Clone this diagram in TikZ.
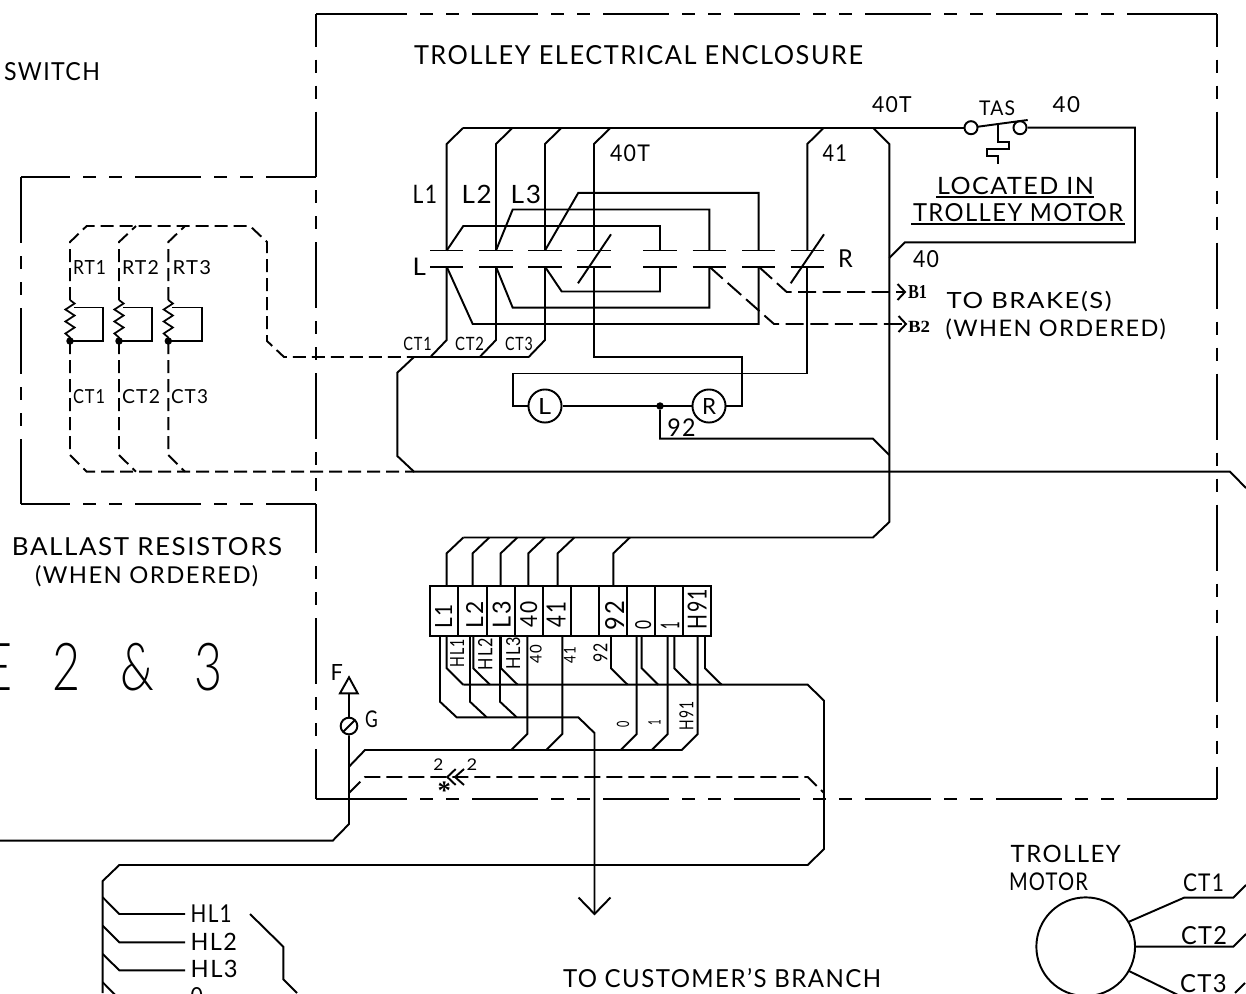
\documentclass[tikz,border=0pt]{standalone}
\usepackage{fontspec}
\usepackage{graphicx}
\setmainfont{Lato}[LetterSpace=6]
\newfontfamily\thinfnt{Lato Light}
\newfontfamily\bfnt{Liberation Serif}[BoldFont=* Bold]
\newlength\labw \newlength\labh
\tikzset{
  wire/.style={line width=1.45pt,line cap=butt,line join=miter},
  phantomline/.style={wire,dash pattern=on 49.5pt off 9.75pt on 9.75pt off 9.75pt on 9.75pt off 9.75pt},
  shortdash/.style={wire,dash pattern=on 9.75pt off 4.5pt},
  plugdash/.style={wire,dash pattern=on 12pt off 4.5pt},
  brakedash/.style={wire,dash pattern=on 13.5pt off 4.9pt},
  lbl/.style={inner sep=0pt,outer sep=0pt,anchor=base west},
  rlbl/.style={inner sep=0pt,outer sep=0pt,anchor=base west,rotate=90},
  ring/.style={circle,draw,line width=1.45pt,inner sep=0pt,fill=white},
  jdot/.style={circle,fill=black,inner sep=0pt,minimum size=5.6pt}
}
% name x1 x2 ytop ybase text
\newcommand\lab[6]{%
  \pgfmathsetlength\labw{(#3-(#2))*0.75pt}\pgfmathsetlength\labh{(#5-#4)*0.75pt}%
  \node[lbl] (#1) at (#2,#5) {\resizebox{\labw}{\labh}{#6}};}
% name xleft xright ytop ybottom text (reads bottom to top)
\newcommand\rlab[6]{%
  \pgfmathsetlength\labw{(#5-#4)*0.75pt}\pgfmathsetlength\labh{(#3-#2)*0.75pt}%
  \node[rlbl] (#1) at (#3,#5) {\resizebox{\labw}{\labh}{#6}};}
\begin{document}
\begin{tikzpicture}[x=0.75pt,y=-0.75pt]
\useasboundingbox (0,0) rectangle (1246,993);
\clip (0,0) rectangle (1246,993);
\fill[white] (0,0) rectangle (1246,993);

% --- enclosure outlines
\draw[phantomline,dash phase=25pt] (316,14) -- (316,177);
\draw[phantomline,dash phase=25pt] (1217,14) -- (1217,799);
\draw[wire] (316,14) -- (341,14) (1192,14) -- (1217,14);
\draw[phantomline] (341,14) -- (1192,14);
\draw[wire] (316,799) -- (341,799) (1192,799) -- (1217,799);
\draw[phantomline] (341,799) -- (1192,799);
\draw[phantomline,dash phase=49.5pt] (316,177) -- (316,504);
\draw[phantomline,dash phase=12.4pt] (316,504) -- (316,799);
\draw[phantomline,dash phase=12.4pt] (21,177) -- (316,177);
\draw[phantomline,dash phase=12.4pt] (21,504) -- (316,504);
\draw[phantomline] (21,177) -- (21,504);

% --- ballast resistors
\draw[shortdash] (70,300) -- (70,242) -- (86.7,226) -- (250,226) -- (267,242) -- (267,341) -- (284,357) -- (414,357);
\draw[shortdash] (119,300) -- (119,242) -- (136,226);
\draw[shortdash] (168.3,300) -- (168.3,242) -- (185,226);
\draw[shortdash] (70,341) -- (70,455) -- (86.7,471.7) -- (414,471.7);
\draw[shortdash] (119,341) -- (119,455) -- (136,471.7);
\draw[shortdash] (168.3,341) -- (168.3,455) -- (185,471.7);
\foreach \rx/\rn in {70/a,119/b,168.3/c}{
  \draw[wire,line width=1.3pt] (\rx,300) -- ++(4.6,3.5) -- ++(-9.2,6) -- ++(9.2,6) -- ++(-9.2,6) -- ++(9.2,6) -- ++(-9.2,6) -- ++(4.6,4) -- ++(0,4);
  \draw[line width=.6pt] (\rx+4,307.5) -- (\rx+11,307.5);
  \draw[wire] (\rx+10.5,307.5) -- (\rx+33.3,307.5) -- (\rx+33.3,341) -- (\rx,341);
  \node[jdot] (dot\rn) at (\rx,341) {};
}

% --- main bus and phase wires
\draw[wire] (463,128) -- (964.5,128);
\foreach \wx in {446.7,496,545,594,807.3}{
  \draw[wire] (\wx,250.3) -- (\wx,144) -- (\wx+16.3,128);
}
\draw[wire] (446.7,266.7) -- (446.7,340) -- (430.4,357);
\draw[wire] (496,266.7) -- (496,340) -- (479.7,357);
\draw[wire] (545,266.7) -- (545,340) -- (528.7,357);
\draw[wire] (414,357) -- (529,357);
\draw[wire] (414,357) -- (397.3,372.7) -- (397.3,456) -- (414,471.7) -- (1230,471.7) -- (1246,488);
\draw[wire] (594,266.7) -- (594,357.3) -- (742,357.3) -- (742,406) -- (725.5,406);
\draw[wire] (807.3,266.7) -- (807.3,373.5) -- (512.7,373.5) -- (512.7,406) -- (528.5,406);

% --- contacts
\foreach \cx in {446.7,496,545,594,660,709.3,758.7,807.3}{
  \draw[wire] (\cx-16.7,250.5) -- (\cx+16.7,250.5);
  \draw[wire] (\cx-16.7,266.7) -- (\cx+16.7,266.7);
}
\draw[wire] (578,283.3) -- (611,234.3);
\draw[wire] (790.7,283.3) -- (824,234.3);
\draw[wire] (446.7,250.5) -- (463.3,226) -- (660,226) -- (660,250.5);
\draw[wire] (496,250.5) -- (512.7,209.5) -- (709.3,209.5) -- (709.3,250.5);
\draw[wire] (545,250.5) -- (578.3,192.8) -- (758.7,192.8) -- (758.7,250.5);
\draw[wire] (446.7,266.7) -- (472.7,324) -- (758.7,324) -- (758.7,266.7);
\draw[wire] (496,266.7) -- (512.7,307.7) -- (709.3,307.7) -- (709.3,266.7);
\draw[wire] (545,266.7) -- (561.7,291.5) -- (660,291.5) -- (660,266.7);

% --- brake leads
\draw[brakedash] (709.3,266.7) -- (774,324) -- (905,324);
\draw[brakedash] (758.7,266.7) -- (786.7,292) -- (904,292);
\draw[wire] (897.5,284) -- (905,292) -- (897.5,300);
\draw[wire] (898.5,316) -- (906,324) -- (898.5,332);

% --- L and R coils
\node[ring,minimum size=24.8pt] (coilL) at (545,406) {};
\node[ring,minimum size=24.8pt] (coilR) at (709,406) {};
\draw[wire] (coilL) -- (coilR);
\node[jdot] (j92) at (660,406) {};
\draw[wire] (j92) -- (660,438.7) -- (873,438.7) -- (889.3,455);

% --- return wire and thermal switch
\draw[wire] (873.3,128) -- (889.3,144) -- (889.3,522) -- (873,537.5) -- (463.3,537.5);
\node[ring,minimum size=9.8pt] (tasL) at (971,127.7) {};
\node[ring,minimum size=9.8pt] (tasR) at (1020,127.7) {};
\draw[wire] (889.3,258) -- (905,242.3) -- (1135,242.3) -- (1135,127.7) -- (tasR);
\draw[wire] (978,126.7) -- (1027.7,120);
\draw[wire] (997.7,124.3) -- (997.7,141.7) -- (1009,141.7) -- (1009,149.3) -- (986.7,149.3) -- (986.7,156) -- (997.7,156) -- (997.7,164);
\draw[wire] (936,196.7) -- (1094,196.7);
\draw[wire] (911,224) -- (1125,224);

% --- terminal strip
\draw[wire] (430,586) rectangle (711,635.7);
\foreach \tx in {458.3,486.7,514.7,542.7,570.7,598.7,626.7,655,683.3}{
  \draw[wire] (\tx,586) -- (\tx,635.7);
}
\foreach \ux in {446.7,472.7,500.7,528.3,557.7,613.3}{
  \draw[wire] (\ux,586) -- (\ux,553.3) -- (\ux+16.6,537.5);
}
% bus y=684.7
\draw[wire] (463.3,684.7) -- (807.7,684.7) -- (824,700.7) -- (824,849) -- (807.7,865) -- (119.3,865) -- (102.7,881) -- (102.7,993);
\foreach \ux in {446.7,473.3,501,611,641.7,674.3,705}{
  \draw[wire] (\ux,635.7) -- (\ux,668.3) -- (\ux+16.6,684.7);
}
% bus y=717
\draw[wire] (440,635.7) -- (440,701.7) -- (456.7,717.3) -- (578.3,717.3) -- (594.5,733) -- (594.5,914);
\draw[wire] (470,635.7) -- (470,701.7) -- (486.7,717.3);
\draw[wire] (500,635.7) -- (500,701.7) -- (516.7,717.3);
\draw[wire] (578.5,897.5) -- (594.5,914) -- (610.5,897.5);
% bus y=750
\draw[wire] (349,766.7) -- (365,750) -- (681.7,750) -- (697.7,734) -- (697.7,635.7);
\foreach \ux in {527.3,562.3,636.7,667.7}{
  \draw[wire] (\ux,635.7) -- (\ux,734) -- (\ux-16,750);
}

% --- ground, F and G
\node[ring,minimum size=12.5pt] (gnd) at (349,726) {};
\draw[wire] (343.2,731.8) -- (354.8,720.2);
\draw[wire] (349,677.3) -- (340,693.3) -- (357.7,693.3) -- cycle;
\draw[wire] (349,693.3) -- (gnd);
\draw[wire] (gnd) -- (349,824) -- (332.7,840.7) -- (0,840.7);

% --- dashed plug line
\draw[plugdash] (349,793) -- (365,777) -- (807.7,777) -- (824,793);
\draw[wire] (455.7,769) -- (447.3,777) -- (455.7,785);
\draw[wire] (464,769) -- (455,777) -- (464,785);

% --- lower left terminals
\draw[wire] (102.7,897.3) -- (119.3,914) -- (185,914);
\draw[wire] (102.7,925.7) -- (119.3,942.3) -- (185,942.3);
\draw[wire] (102.7,954) -- (119.3,970.3) -- (185,970.3);
\draw[wire] (102.7,982.3) -- (119.3,999);
\draw[wire] (250,914) -- (283.3,946.7) -- (283.3,979.3) -- (297,993);

% --- trolley motor
\node[ring,minimum size=74pt] (motor) at (1085.7,946.7) {};
\draw[wire] (1129,921.7) -- (1184,897.7) -- (1233.3,897.7) -- (1246,885);
\draw[wire] (1135,946.7) -- (1233.3,946.7) -- (1246,934);
\draw[wire] (1129,971) -- (1178,995);
\draw[wire] (1235,993) -- (1245,983);

% --- text
\lab{title}{414}{863}{45}{64}{TROLLEY ELECTRICAL ENCLOSURE}
\lab{sw}{4}{100}{62}{80}{SWITCH}
\lab{bal}{12}{282}{537}{555}{BALLAST RESISTORS}
\lab{whenA}{35}{258}{565}{583}{(WHEN ORDERED)}
\lab{page}{-15}{222}{642.7}{690}{\thinfnt E \hspace{.55em}2 \hspace{.55em}\& \hspace{.55em}3}
\lab{rtA}{73}{106}{260}{274}{RT1}
\lab{rtB}{122}{159}{260}{274}{RT2}
\lab{rtC}{172.7}{211}{260}{274}{RT3}
\lab{ctA}{73}{105}{389}{403}{CT1}
\lab{ctB}{122}{160}{389}{403}{CT2}
\lab{ctC}{171}{208}{389}{403}{CT3}
\lab{lA}{412.7}{437}{185}{203.3}{L1}
\lab{lB}{461.7}{491.7}{185}{203.3}{L2}
\lab{lC}{510.7}{541}{185}{203.3}{L3}
\lab{lL}{412.7}{426}{258.3}{275.7}{L}
\lab{tA}{610}{650}{145}{161.7}{40T}
\lab{tB}{822.7}{847}{145}{161.7}{41}
\lab{tC}{838}{852.7}{250}{267.7}{R}
\lab{tD}{872}{911.7}{96}{112}{40T}
\lab{tE}{979}{1015}{101}{115.7}{TAS}
\lab{tF}{1052.7}{1080}{96}{112}{40}
\lab{tG}{913}{939}{250}{267}{40}
\lab{locA}{937}{1094}{176.7}{194}{LOCATED IN}
\lab{locB}{913}{1123}{203}{221}{TROLLEY MOTOR}
\lab{brk}{946.7}{1111.7}{290.7}{308}{TO BRAKE(S)}
\lab{whenB}{945.7}{1165.7}{319}{336.7}{(WHEN ORDERED)}
\lab{bA}{908}{927}{285}{298}{\bfnt\bfseries B1}
\lab{bB}{908}{930}{320.7}{332}{\bfnt\bfseries B2}
\lab{cA}{403.3}{431.7}{336.7}{350}{CT1}
\lab{cB}{455}{484}{336.7}{350}{CT2}
\lab{cC}{505}{532.7}{336.7}{350}{CT3}
\lab{n92}{667.3}{695.7}{419}{436.7}{92}
\lab{cL}{538}{551}{398}{414}{L}
\lab{cR}{702}{716}{398}{414}{R}
\rlab{sA}{435}{452}{604}{628}{L1}
\rlab{sB}{466}{483}{601.7}{628}{L2}
\rlab{sC}{492.7}{510.7}{601}{628}{L3}
\rlab{sD}{520}{537}{601.7}{627.3}{40}
\rlab{sE}{546.7}{565.7}{602}{627}{41}
\rlab{sF}{605}{624}{601}{630}{92}
\rlab{sG}{635}{651}{620}{629}{0}
\rlab{sH}{660.7}{679.3}{621.7}{629.3}{1}
\rlab{sI}{687.7}{706.7}{589}{629}{H91}
\rlab{hA}{450}{464}{639.3}{667.3}{HL1}
\rlab{hB}{478}{492.3}{638}{670}{HL2}
\rlab{hC}{506}{520}{636.7}{669}{HL3}
\rlab{hD}{530}{541.7}{645}{663.3}{40}
\rlab{hE}{564}{575.7}{646.7}{663}{41}
\rlab{hF}{593.3}{607.3}{643.3}{662.7}{92}
\rlab{hG}{616.7}{629}{721}{727.3}{0}
\rlab{hH}{648.3}{660.7}{719.3}{725}{1}
\rlab{hI}{679.3}{693.3}{701.7}{730}{H91}
\lab{fF}{330.7}{343}{664}{680}{F}
\lab{fG}{365}{377.7}{711}{727.7}{G}
\lab{pA}{433.3}{443.3}{758.3}{770}{2}
\lab{pB}{466.7}{477.3}{758.3}{770}{2}
\node[inner sep=0pt] (star) at (444.3,790.5) {\fontsize{20pt}{20pt}\bfnt\bfseries *};
\lab{hlA}{190.7}{231.7}{905}{922.7}{HL1}
\lab{hlB}{190.7}{237}{932.7}{950}{HL2}
\lab{hlC}{190.7}{237.7}{960}{977.3}{HL3}
\lab{hlD}{190.7}{203}{987}{1004}{0}
\lab{cust}{563}{881}{968}{987}{TO CUSTOMER'S BRANCH}
\lab{mA}{1010.7}{1120.7}{845}{862.3}{TROLLEY}
\lab{mB}{1009}{1088}{872.3}{890}{MOTOR}
\lab{mcA}{1183}{1224}{874}{891.7}{CT1}
\lab{mcB}{1181}{1227}{926}{944}{CT2}
\lab{mcC}{1180}{1226.7}{974.3}{992.3}{CT3}
\end{tikzpicture}
\end{document}
